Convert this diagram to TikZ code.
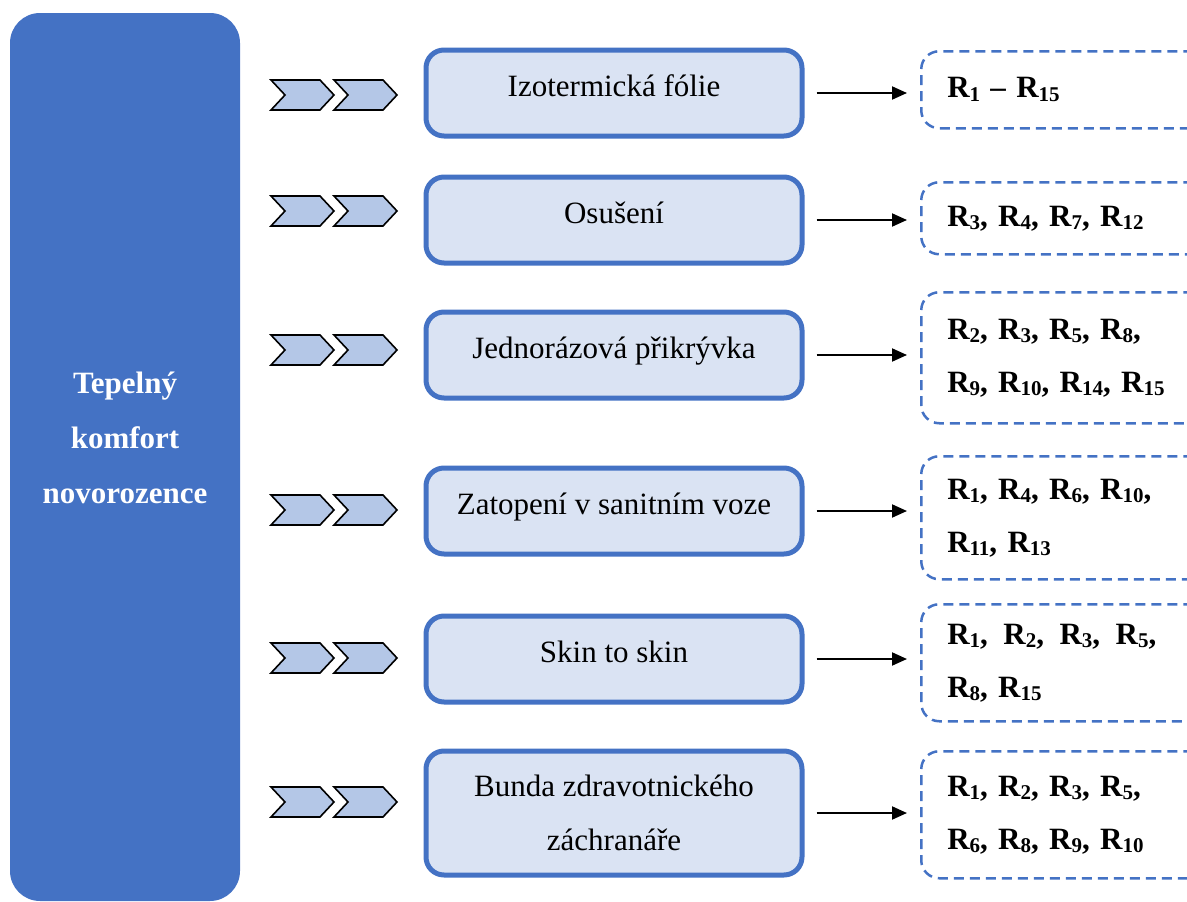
\documentclass[tikz,border=0pt]{standalone}
\usepackage{fontspec}
\setmainfont{Liberation Serif}
\usetikzlibrary{arrows.meta}
\definecolor{accent}{HTML}{4472C4}
\definecolor{lightfill}{HTML}{DAE3F3}
\definecolor{chevfill}{HTML}{B4C7E7}
% R with a lowered index, as in the result lists
\newcommand{\Rx}[1]{R\raisebox{-0.12em}{\fontsize{21}{21}\selectfont #1}}
\tikzset{
  mainbox/.style={draw=none, fill=accent, rounded corners=30pt},
  stepbox/.style={draw=accent, line width=5pt, fill=lightfill, rounded corners=18pt,
    minimum width=376pt, minimum height=86pt, align=center,
    font=\fontsize{31}{54}\selectfont, inner sep=0pt},
  oneline/.style={text height=22pt, text depth=16pt},
  resbox/.style={draw=accent, line width=2.5pt, dash pattern=on 10pt off 6pt,
    rounded corners=18pt, minimum width=290pt, align=left, anchor=north west,
    font=\bfseries\fontsize{31}{53}\selectfont, inner xsep=26pt, inner ysep=0pt,
    text width=238pt},
  arr/.style={line width=2pt, -{Triangle[length=15pt,width=13pt]},
    shorten <=12pt, shorten >=13pt},
  chev/.style={draw=black, line width=1.6pt, fill=chevfill, line join=miter},
  pics/chevrons/.style={code={
    \foreach \dx in {0,63}{
      \path[chev] (\dx,-15) -- ++(49,0) -- ++(14,15) -- ++(-14,15) -- ++(-49,0)
        -- ++(14,-15) -- cycle;
    }
  }}
}
\begin{document}
\begin{tikzpicture}[x=1pt,y=-1pt]
\useasboundingbox (0,0) rectangle (1187,902);
\clip (0,0) rectangle (1187,902);

% left column
\path[mainbox] (10,13) rectangle (240,901);
\node[text=white, font=\bfseries\fontsize{31}{55}\selectfont, align=center]
  (topic) at (125,438) {Tepelný\\komfort\\novorozence};

% chevrons
\foreach \yy in {95,211,350,510,658,802}
  \pic at (271,\yy) {chevrons};

% middle steps
\node[stepbox, oneline] (m1) at (614,93) {Izotermická fólie};
\node[stepbox, oneline] (m2) at (614,220) {Osušení};
\node[stepbox, oneline] (m3) at (614,355) {Jednorázová přikrývka};
\node[stepbox, oneline] (m4) at (614,511) {Zatopení v sanitním voze};
\node[stepbox, oneline] (m5) at (614,659) {Skin to skin};
\node[stepbox, minimum height=124pt] (m6) at (614,813) {Bunda zdravotnického\\záchranáře};

% results
\node[resbox, minimum height=77pt] (r1) at (920,50) {\Rx{1} – \Rx{15}};
\node[resbox, minimum height=72pt] (r2) at (920,181) {\Rx{3}, \Rx{4}, \Rx{7}, \Rx{12}};
\node[resbox, minimum height=131pt] (r3) at (920,291) {\Rx{2}, \Rx{3}, \Rx{5}, \Rx{8},\\\Rx{9}, \Rx{10}, \Rx{14}, \Rx{15}};
\node[resbox, minimum height=123pt] (r4) at (920,455) {\Rx{1}, \Rx{4}, \Rx{6}, \Rx{10},\\\Rx{11}, \Rx{13}};
\node[resbox, minimum height=117pt] (r5) at (920,603) {\Rx{1},\hspace{0.5em}\Rx{2},\hspace{0.5em}\Rx{3},\hspace{0.5em}\Rx{5},\\\Rx{8}, \Rx{15}};
\node[resbox, minimum height=127pt] (r6) at (920,750) {\Rx{1}, \Rx{2}, \Rx{3}, \Rx{5},\\\Rx{6}, \Rx{8}, \Rx{9}, \Rx{10}};

% connectors
\foreach \i in {1,...,6}
  \draw[arr] (m\i.east) -- (r\i.west |- m\i.east);
\end{tikzpicture}
\end{document}
